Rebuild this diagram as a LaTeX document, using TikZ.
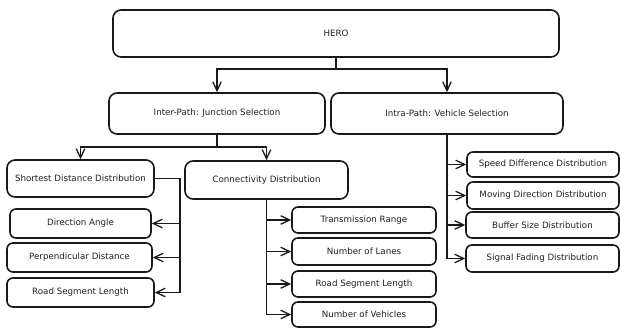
\documentclass[tikz,border=0pt]{standalone}
\usepackage{fontspec}
\setmainfont{DejaVu Sans}
\usetikzlibrary{arrows.meta}

\begin{document}
\begin{tikzpicture}[x=1pt,y=-1pt,line width=1.6pt,
    >={Straight Barb[length=9pt,width=8.5pt,line width=1.3pt]},
    font=\fontsize{8.7}{10}\selectfont]
    \tikzstyle{box}=[draw=black!90,rounded corners=6pt,inner sep=0pt,text=black!88]
    \tikzstyle{main box}=[box,rounded corners=8pt]
    \tikzstyle{link}=[->,draw=black!90,rounded corners=0pt]

    \useasboundingbox (0,0) rectangle (620,328);

    % Top node and the two paths
    \node[main box,minimum width=446pt,minimum height=47pt] (hero) at (336,33.5) {HERO};
    \node[main box,minimum width=216pt,minimum height=41pt] (inter) at (217,113.5) {Inter-Path: Junction Selection};
    \node[main box,minimum width=232pt,minimum height=41pt] (intra) at (447,113.5) {Intra-Path: Vehicle Selection};

    % Junction selection
    \node[main box,minimum width=147pt,minimum height=37pt] (sdd) at (80.5,178.5) {Shortest Distance Distribution};
    \node[main box,minimum width=163pt,minimum height=38pt] (conn) at (266.5,180) {Connectivity Distribution};

    \node[box,minimum width=141pt,minimum height=29pt] (da) at (80.5,223.5) {Direction Angle};
    \node[box,minimum width=145pt,minimum height=29pt] (pd) at (79.5,257.5) {Perpendicular Distance};
    \node[box,minimum width=147pt,minimum height=29pt] (rsl) at (80.5,292.5) {Road Segment Length};

    \node[box,minimum width=144pt,minimum height=26pt] (tr) at (364,220) {Transmission Range};
    \node[box,minimum width=144pt,minimum height=27pt] (nl) at (364,251.5) {Number of Lanes};
    \node[box,minimum width=144pt,minimum height=26pt] (rsl2) at (364,284) {Road Segment Length};
    \node[box,minimum width=144pt,minimum height=25pt] (nv) at (364,314.5) {Number of Vehicles};

    % Vehicle selection
    \node[box,minimum width=152pt,minimum height=25pt] (speed) at (543,164.5) {Speed Difference Distribution};
    \node[box,minimum width=152pt,minimum height=27pt] (move) at (543,195.5) {Moving Direction Distribution};
    \node[box,minimum width=153pt,minimum height=26pt] (buffer) at (542.5,225) {Buffer Size Distribution};
    \node[box,minimum width=153pt,minimum height=27pt] (fading) at (542.5,258.5) {Signal Fading Distribution};

    % Connect the levels
    \foreach \dest in {inter,intra}
        \draw[link] (hero.south) -- ++(0,11) -| (\dest.north);
    \foreach \dest in {sdd,conn}
        \draw[link] (inter.south) -- ++(0,12.5) -| (\dest.north);

    \foreach \dest in {da,pd,rsl}
        \draw[link] (sdd.east) -- ++(25,0) |- (\dest.east);
    \foreach \dest in {tr,nl,rsl2,nv}
        \draw[link] (conn.south) |- (\dest.west);
    \foreach \dest in {speed,move,buffer,fading}
        \draw[link] (intra.south) |- (\dest.west);

\end{tikzpicture}
\end{document}
